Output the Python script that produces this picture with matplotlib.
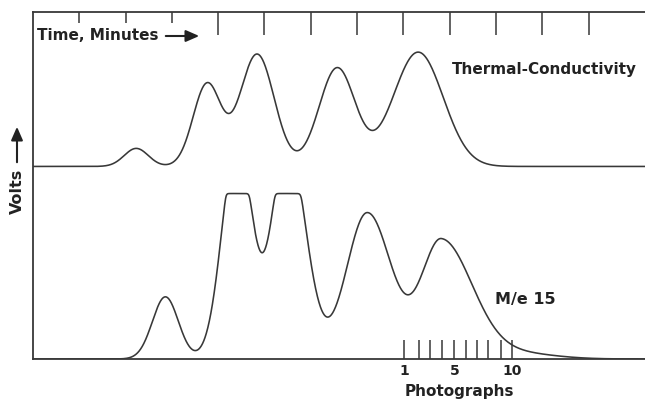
import numpy as np
import matplotlib.pyplot as plt
from matplotlib import font_manager

# --- data (time in minutes, signal in arbitrary volts) ---
minute_ticks = [1, 2, 3, 4, 5, 6, 7, 8, 9, 10, 11, 12]
n_short = 3  # first marks are cut short above the caption

# thermal-conductivity trace: peak centre, height, left/right width
tc_baseline = 1.92
tc_centres = [2.23, 3.76, 4.84, 6.57, 8.32]
tc_heights = [0.18, 0.82, 1.12, 0.98, 1.14]
tc_width_l = [0.26, 0.30, 0.37, 0.39, 0.54]
tc_width_r = [0.26, 0.30, 0.37, 0.39, 0.54]

# m/e 15 trace (recorder saturates at ms_cap)
ms_baseline = 0.0
ms_cap = 1.65
ms_centres = [2.86, 4.41, 5.49, 7.22, 8.82, 10.40]
ms_heights = [0.62, 2.20, 2.20, 1.46, 1.18, 0.06]
ms_width_l = [0.28, 0.32, 0.32, 0.45, 0.43, 0.80]
ms_width_r = [0.28, 0.32, 0.39, 0.52, 0.66, 0.80]

# photograph marks
photo_times = [8.02, 8.34, 8.58, 8.84, 9.10, 9.36, 9.60, 9.83, 10.11, 10.35]
photo_labels = ['1', '', '', '', '5', '', '', '', '', '10']

t_max = 13.22
v_max = 3.46


def trace(t, centres, heights, wl, wr):
    y = np.zeros_like(t)
    for c, h, a, b in zip(centres, heights, wl, wr):
        s = np.where(t < c, a, b)
        y += h * np.exp(-0.5 * ((t - c) / s) ** 2)
    return y


names = {f.name for f in font_manager.fontManager.ttflist}
fam = 'Liberation Sans Narrow' if 'Liberation Sans Narrow' in names else 'DejaVu Sans'

ink = '#383838'
t = np.linspace(0, t_max, 2000)
tc = tc_baseline + trace(t, tc_centres, tc_heights, tc_width_l, tc_width_r)
raw = trace(t, ms_centres, ms_heights, ms_width_l, ms_width_r)
k = 20.0
ms = ms_baseline - np.log(np.exp(-k * raw) + np.exp(-k * ms_cap)) / k
ms = ms - ms[0]

fig = plt.figure(figsize=(6.45, 4.02), dpi=100)
ax = fig.add_axes([33 / 645, 42 / 402, 612 / 645, 347 / 402])
ax.plot(t, tc, color=ink, lw=1.15)
ax.plot(t, ms, color=ink, lw=1.15)
ax.set_xlim(0, t_max)
ax.set_ylim(0, v_max)

for side in ['left', 'top', 'bottom']:
    ax.spines[side].set_color(ink)
    ax.spines[side].set_linewidth(1.3)
ax.spines['right'].set_visible(False)
ax.set_yticks([])

ax.set_xticks(photo_times)
ax.set_xticklabels(photo_labels, fontsize=10, fontweight='bold', family=fam, color='#222')
ax.tick_params(axis='x', direction='in', length=13.7, width=1.1, color=ink, pad=3)

top = ax.secondary_xaxis('top')
top.set_xticks(minute_ticks[n_short:])
top.set_xticks(minute_ticks[:n_short], minor=True)
top.set_xticklabels([])
top.tick_params(which='major', direction='in', length=16.5, width=1.1, color=ink)
top.tick_params(which='minor', direction='in', length=8, width=1.1, color=ink)
top.spines['top'].set_visible(False)

txt = dict(fontweight='bold', family=fam, color='#222')
fig.text(37, 366, 'Time, Minutes', transform=None, va='center', ha='left', fontsize=11, **txt)
fig.text(452, 332, 'Thermal-Conductivity', transform=None, va='center', ha='left', fontsize=11, **txt)
fig.text(495, 102, 'M/e 15', transform=None, va='center', ha='left', fontsize=11.5, **txt)
fig.text(459, 10, 'Photographs', transform=None, va='center', ha='center', fontsize=11, **txt)
fig.text(17, 211, 'Volts', transform=None, va='center', ha='center', rotation=90, fontsize=11.5, **txt)

arrow = dict(arrowstyle='-|>,head_length=0.8,head_width=0.35', color='#222', lw=1.5)
ax.annotate('', xy=(202, 365), xytext=(163, 365), xycoords='figure pixels', arrowprops=arrow)
ax.annotate('', xy=(17, 277), xytext=(17, 236), xycoords='figure pixels', arrowprops=arrow)

fig.savefig('out.png', dpi=100)
